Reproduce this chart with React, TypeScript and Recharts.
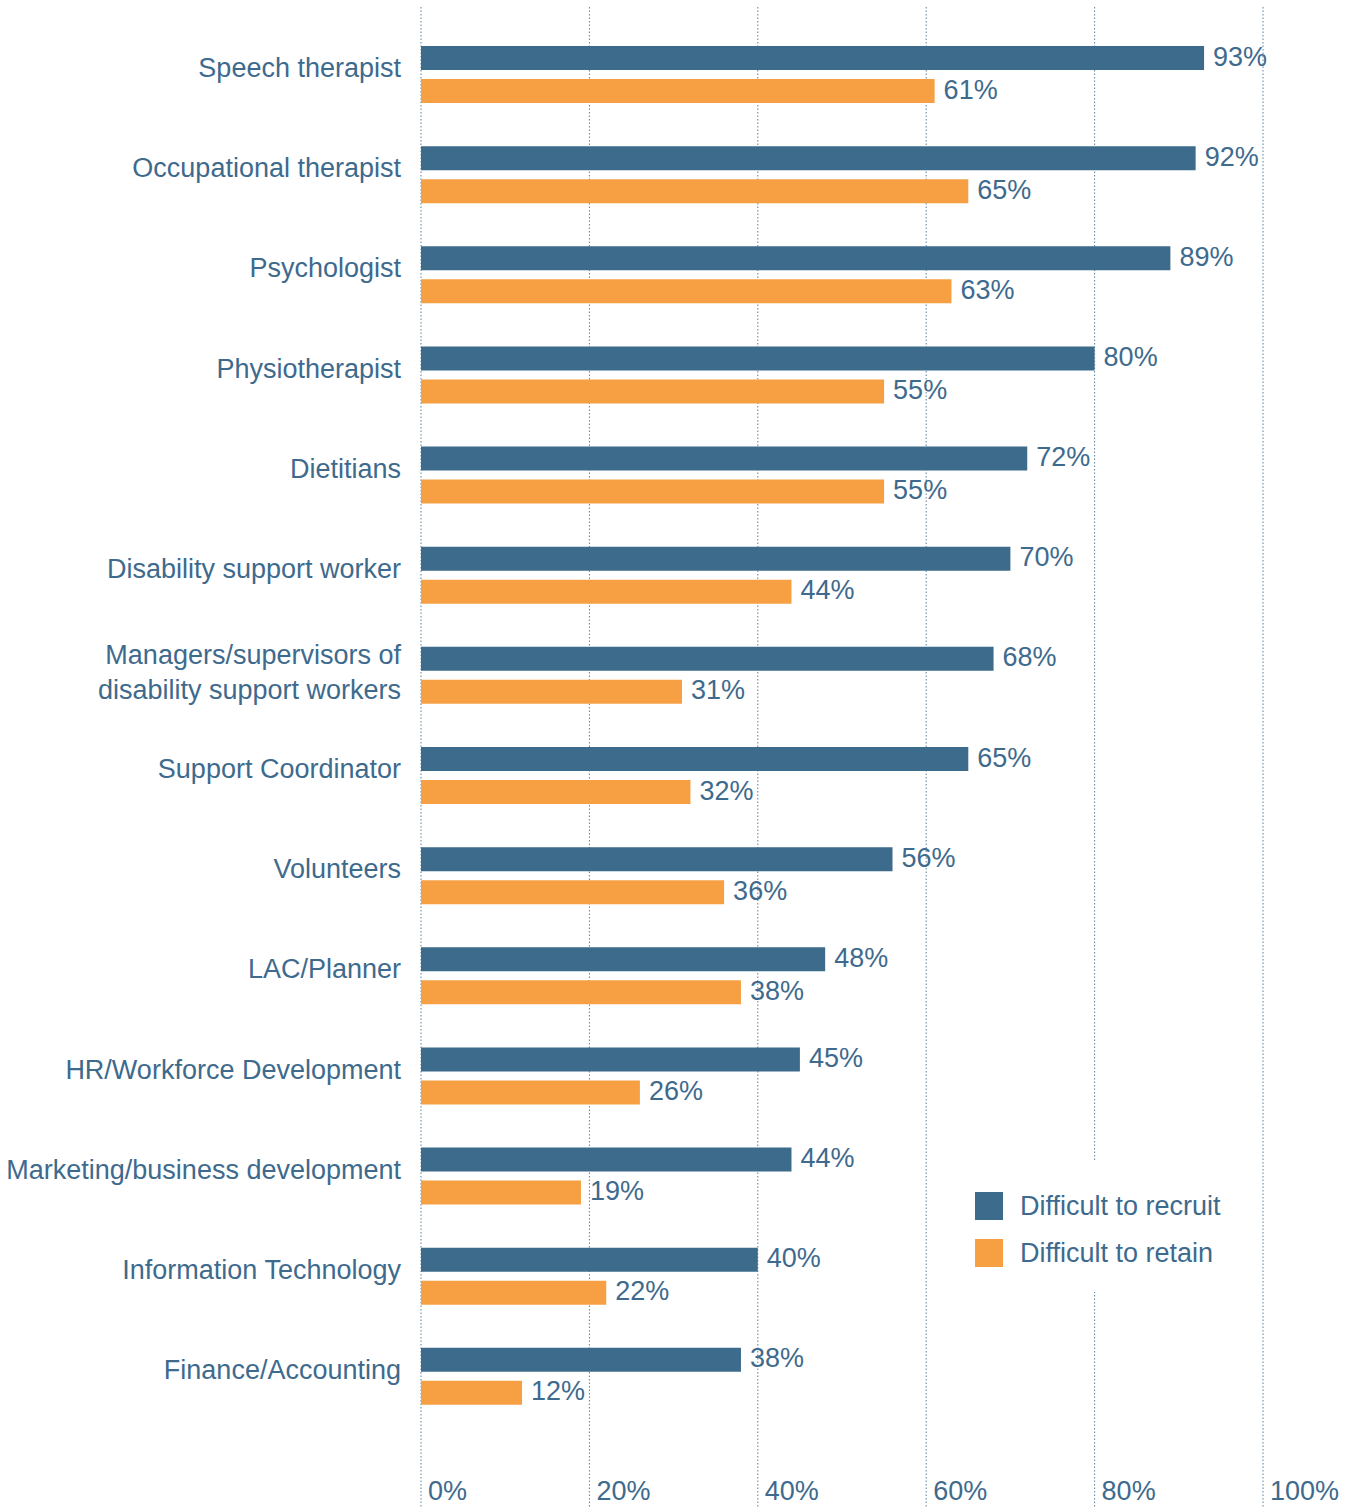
import React from 'react';
import { BarChart, Bar, XAxis, YAxis, CartesianGrid, Legend, LabelList } from 'recharts';

const categories = [
  'Speech therapist',
  'Occupational therapist',
  'Psychologist',
  'Physiotherapist',
  'Dietitians',
  'Disability support worker',
  'Managers/supervisors of\ndisability support workers',
  'Support Coordinator',
  'Volunteers',
  'LAC/Planner',
  'HR/Workforce Development',
  'Marketing/business development',
  'Information Technology',
  'Finance/Accounting',
];
const recruit = [93, 92, 89, 80, 72, 70, 68, 65, 56, 48, 45, 44, 40, 38];
const retain = [61, 65, 63, 55, 55, 44, 31, 32, 36, 38, 26, 19, 22, 12];
const xTicks = [0, 20, 40, 60, 80, 100];

const BLUE = '#3d6b8c';
const ORANGE = '#f6a043';
const TEXT = '#3e6a8d';
const FONT = "'Liberation Sans', Arial, Helvetica, sans-serif";

const data = categories.map((name, i) => ({ name, recruit: recruit[i], retain: retain[i] }));

const CategoryTick = (props: any) => {
  const { y, payload } = props;
  const lines = String(payload.value).split('\n');
  // single line sits a little above the band centre, two lines are spread around it
  const start = lines.length === 1 ? y + 3 : y - 11;
  return (
    <text x={401} y={start} textAnchor="end" fill={TEXT} fontSize={27} fontFamily={FONT}>
      {lines.map((l, i) => (
        <tspan key={i} x={401} dy={i === 0 ? 0 : 35}>{l}</tspan>
      ))}
    </text>
  );
};

const PercentTick = (props: any) => {
  const { x, y, payload } = props;
  return (
    <text x={x + 7} y={y - 15} textAnchor="start" fill={TEXT} fontSize={27} fontFamily={FONT}>
      {payload.value}%
    </text>
  );
};

const renderLegend = () => (
  <div style={{ padding: '22px 0 0 25px', fontFamily: FONT, whiteSpace: 'nowrap' }}>
    {[{ c: BLUE, t: 'Difficult to recruit' }, { c: ORANGE, t: 'Difficult to retain' }].map((it) => (
      <div key={it.t} style={{ display: 'flex', alignItems: 'center', height: 47 }}>
        <span style={{ width: 28, height: 28, background: it.c, display: 'inline-block', marginRight: 17, flex: 'none' }} />
        <span style={{ color: TEXT, fontSize: 27, lineHeight: '30px' }}>{it.t}</span>
      </div>
    ))}
  </div>
);

const labelProps = {
  position: 'right' as const,
  offset: 9,
  formatter: (v: any) => `${v}%`,
  fill: TEXT,
  fontSize: 27,
  fontFamily: FONT,
  dy: -2,
};

export default function App() {
  return (
    <div style={{ position: 'absolute', left: 0, top: 0, background: '#fff' }}>
      <BarChart
        width={1354}
        height={1508}
        data={data}
        layout="vertical"
        barSize={24}
        barGap={9}
        margin={{ top: 7, right: 91, bottom: 0, left: 0 }}
      >
        <CartesianGrid horizontal={false} stroke={BLUE} strokeDasharray="1.5 2" strokeWidth={1} strokeOpacity={0.85} />
        <XAxis
          type="number"
          domain={[0, 100]}
          ticks={xTicks}
          height={1}
          axisLine={false}
          tickLine={false}
          tick={<PercentTick />}
          interval={0}
        />
        <YAxis
          type="category"
          dataKey="name"
          width={421}
          axisLine={false}
          tickLine={false}
          tick={<CategoryTick />}
          interval={0}
          padding={{ top: 17, bottom: 81 }}
        />
        <Legend
          layout="vertical"
          align="center"
          verticalAlign="middle"
          content={renderLegend}
          wrapperStyle={{ left: 950, top: 1160, width: 290, height: 132, background: '#fff' }}
        />
        <Bar dataKey="recruit" name="Difficult to recruit" fill={BLUE} isAnimationActive={false}>
          <LabelList dataKey="recruit" {...labelProps} />
        </Bar>
        <Bar dataKey="retain" name="Difficult to retain" fill={ORANGE} isAnimationActive={false}>
          <LabelList dataKey="retain" {...labelProps} />
        </Bar>
      </BarChart>
    </div>
  );
}
